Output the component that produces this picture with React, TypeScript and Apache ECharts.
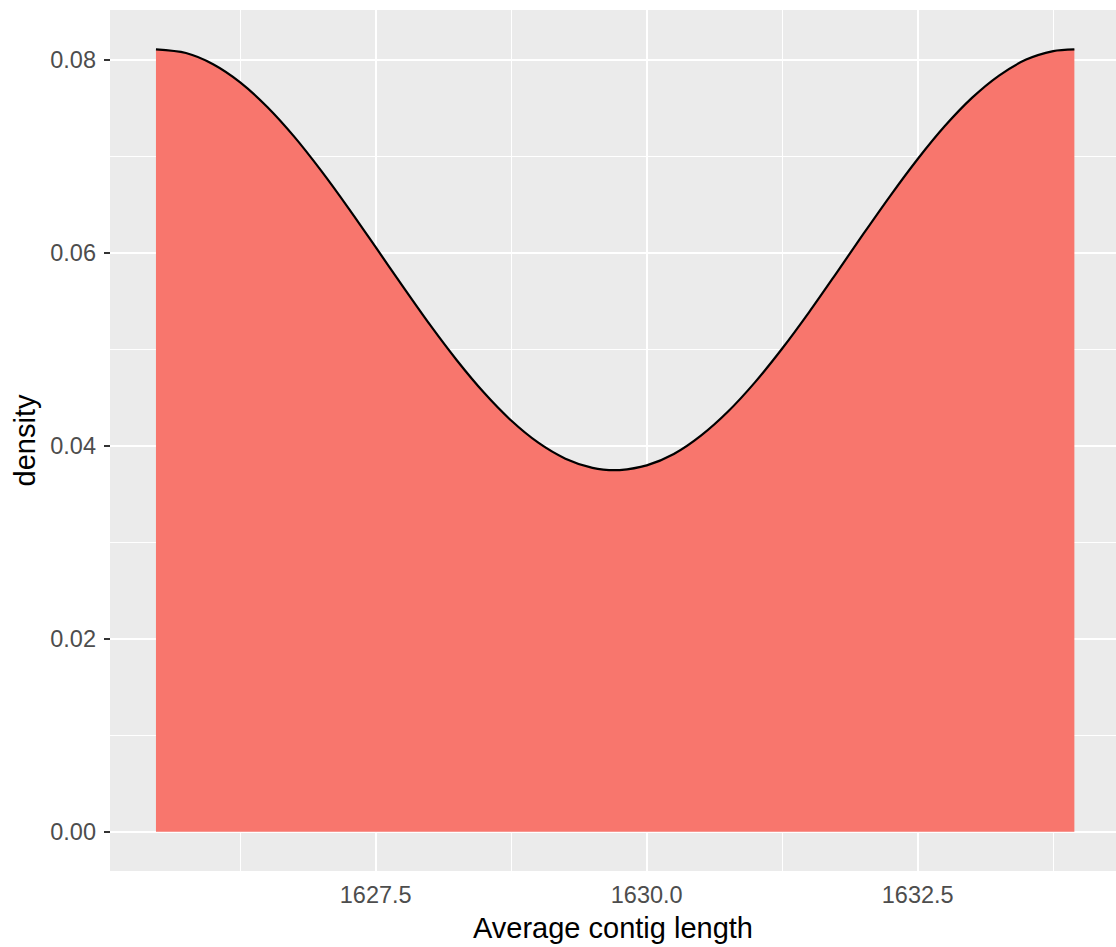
import React, { useEffect, useRef } from "react";
import * as echarts from "echarts";

// Density curve
const xValues = [
  1625.473, 1625.75, 1626.0, 1626.25, 1626.5, 1626.75, 1627.0, 1627.25, 1627.5, 1627.75,
  1628.0, 1628.25, 1628.5, 1628.75, 1629.0, 1629.25, 1629.5, 1629.71, 1629.75, 1630.0,
  1630.25, 1630.5, 1630.75, 1631.0, 1631.25, 1631.5, 1631.75, 1632.0, 1632.25, 1632.5,
  1632.75, 1633.0, 1633.25, 1633.5, 1633.75, 1633.945,
];
const densityValues = [
  0.08108, 0.0807, 0.07954, 0.07766, 0.07511, 0.07201, 0.06846, 0.06461, 0.06058, 0.05652,
  0.05255, 0.04884, 0.04549, 0.04262, 0.04032, 0.03867, 0.03772, 0.03748, 0.03749, 0.03797,
  0.03915, 0.04105, 0.04355, 0.0466, 0.05008, 0.05388, 0.0579, 0.06198, 0.06596, 0.06972,
  0.07313, 0.07605, 0.07837, 0.08002, 0.0809, 0.08108,
];

const xMajorTicks = [1627.5, 1630.0, 1632.5];
const xMinorTicks = [1626.25, 1628.75, 1631.25, 1633.75];
const yMajorTicks = [0, 0.02, 0.04, 0.06, 0.08];
const yMinorTicks = [0.01, 0.03, 0.05, 0.07];

const X_MIN = 1625.049;
const X_MAX = 1634.329;
const Y_MIN = -0.00406;
const Y_MAX = 0.08516;

export default function App() {
  const ref = useRef<HTMLDivElement>(null);

  useEffect(() => {
    if (!ref.current) return;
    const chart = echarts.init(ref.current, null, { renderer: "svg" });
    const font = "Liberation Sans";
    const gridLines = [
      ...xMinorTicks.map((v) => ({ xAxis: v, lineStyle: { width: 1, color: "#FFFFFF", type: "solid" } })),
      ...yMinorTicks.map((v) => ({ yAxis: v, lineStyle: { width: 1, color: "#FFFFFF", type: "solid" } })),
      ...xMajorTicks.map((v) => ({ xAxis: v, lineStyle: { width: 2, color: "#FFFFFF", type: "solid" } })),
      ...yMajorTicks.map((v) => ({ yAxis: v, lineStyle: { width: 2, color: "#FFFFFF", type: "solid" } })),
    ];
    chart.setOption({
      animation: false,
      grid: {
        left: 110,
        top: 10,
        right: 0,
        bottom: 75,
        show: true,
        backgroundColor: "#EBEBEB",
        borderWidth: 0,
      },
      xAxis: {
        type: "value",
        min: X_MIN,
        max: X_MAX,
        name: "Average contig length",
        nameLocation: "middle",
        nameGap: 42,
        nameTextStyle: { fontFamily: font, fontSize: 29, color: "#000000" },
        axisLine: { show: false },
        splitLine: { show: false },
        axisTick: {
          show: true,
          customValues: xMajorTicks,
          length: 6,
          lineStyle: { color: "#333333", width: 2 },
        },
        axisLabel: {
          customValues: xMajorTicks,
          formatter: (v: number) => v.toFixed(1),
          fontFamily: font,
          fontSize: 23.5,
          color: "#4D4D4D",
          margin: 12,
        },
      },
      yAxis: {
        type: "value",
        min: Y_MIN,
        max: Y_MAX,
        name: "density",
        nameLocation: "middle",
        nameGap: 64,
        nameRotate: 90,
        nameTextStyle: { fontFamily: font, fontSize: 29, color: "#000000" },
        axisLine: { show: false },
        splitLine: { show: false },
        axisTick: {
          show: true,
          customValues: yMajorTicks,
          length: 6,
          lineStyle: { color: "#333333", width: 2 },
        },
        axisLabel: {
          customValues: yMajorTicks,
          formatter: (v: number) => v.toFixed(2),
          fontFamily: font,
          fontSize: 23.5,
          color: "#4D4D4D",
          margin: 14,
        },
      },
      series: [
        {
          type: "line",
          z: 1,
          data: [[X_MIN, Y_MIN]],
          symbol: "none",
          lineStyle: { width: 0, opacity: 0 },
          silent: true,
          markLine: {
            z: 1,
            silent: true,
            symbol: ["none", "none"],
            label: { show: false },
            emphasis: { disabled: true },
            data: gridLines,
          },
        },
        {
          type: "line",
          z: 3,
          data: xValues.map((x, i) => [x, densityValues[i]]),
          smooth: 0.3,
          symbol: "none",
          lineStyle: { color: "#000000", width: 2.2 },
          areaStyle: { color: "#F8766D", opacity: 1 },
          silent: true,
        },
      ],
    });
    return () => chart.dispose();
  }, []);

  return (
    <div
      ref={ref}
      style={{ position: "fixed", left: 0, top: 0, width: 1116, height: 947, background: "#FFFFFF" }}
    />
  );
}
